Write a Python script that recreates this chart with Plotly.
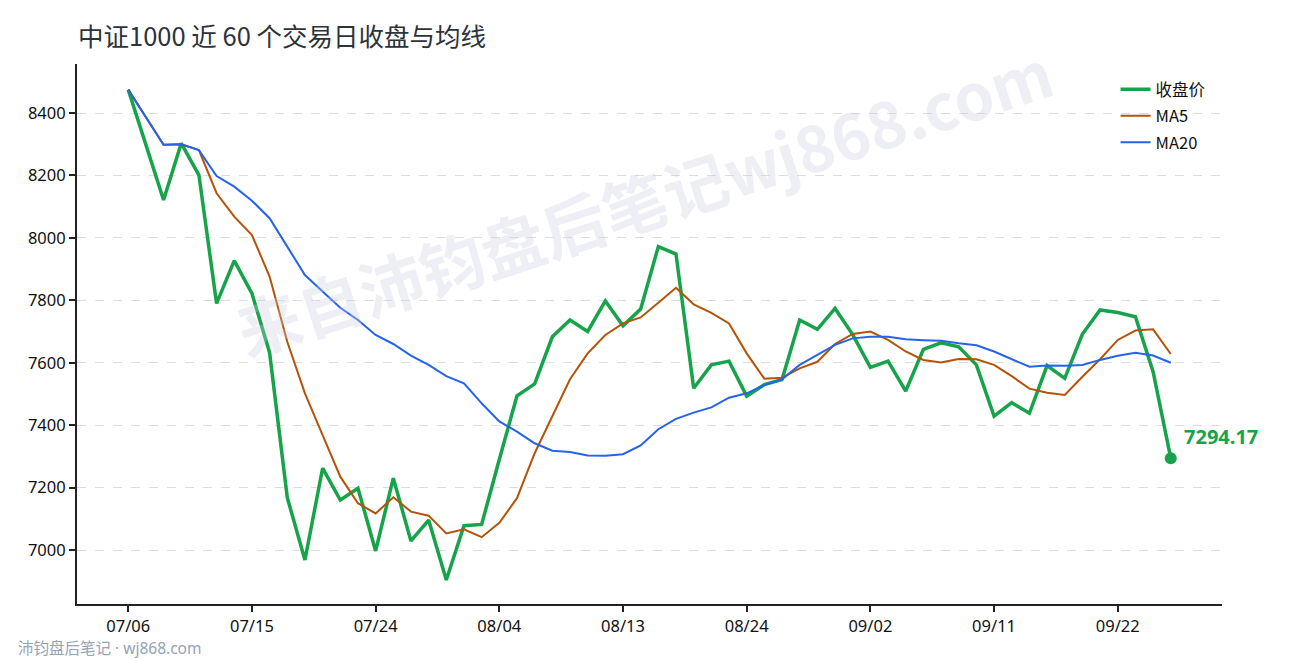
import plotly.graph_objects as go

# trading days (07/06 .. 09/25), weekdays only
dates = [
    "07/06", "07/07", "07/08", "07/09", "07/10", "07/13", "07/14", "07/15", "07/16", "07/17",
    "07/20", "07/21", "07/22", "07/23", "07/24", "07/27", "07/28", "07/29", "07/30", "07/31",
    "08/03", "08/04", "08/05", "08/06", "08/07", "08/10", "08/11", "08/12", "08/13", "08/14",
    "08/17", "08/18", "08/19", "08/20", "08/21", "08/24", "08/25", "08/26", "08/27", "08/28",
    "08/31", "09/01", "09/02", "09/03", "09/04", "09/07", "09/08", "09/09", "09/10", "09/11",
    "09/14", "09/15", "09/16", "09/17", "09/18", "09/21", "09/22", "09/23", "09/24", "09/25",
]

close = [
    8475, 8300, 8121, 8303, 8201, 7790, 7927, 7822, 7632, 7168,
    6968, 7262, 7160, 7198, 6997, 7230, 7029, 7096, 6904, 7078,
    7082, 7290, 7494, 7532, 7683, 7737, 7700, 7798, 7718, 7772,
    7972, 7948, 7518, 7593, 7605, 7493, 7530, 7546, 7737, 7707,
    7774, 7690, 7585, 7605, 7509, 7643, 7664, 7651, 7593, 7429,
    7472, 7438, 7591, 7550, 7692, 7769, 7761, 7747, 7571, 7294.17,
]

ma5 = [
    8475, 8387, 8298, 8300, 8281, 8143, 8068, 8009, 7876, 7667,
    7502, 7368, 7235, 7150, 7117, 7169, 7123, 7110, 7053, 7066,
    7041, 7087, 7166, 7310, 7427, 7547, 7630, 7689, 7726, 7745,
    7792, 7840, 7787, 7760, 7726, 7630, 7549, 7552, 7582, 7603,
    7660, 7692, 7700, 7673, 7636, 7609, 7601, 7612, 7611, 7593,
    7557, 7517, 7504, 7497, 7555, 7611, 7673, 7703, 7707, 7628,
]

ma20 = [
    8475, 8387, 8298, 8300, 8281, 8198, 8164, 8119, 8063, 7972,
    7881, 7828, 7776, 7737, 7689, 7660, 7623, 7593, 7557, 7534,
    7470, 7412, 7379, 7342, 7318, 7314, 7303, 7302, 7307, 7335,
    7387, 7420, 7440, 7457, 7488, 7502, 7529, 7547, 7593, 7625,
    7657, 7678, 7683, 7683, 7675, 7672, 7670, 7662, 7656, 7636,
    7612, 7587, 7591, 7590, 7593, 7609, 7622, 7632, 7623, 7600,
]

y_ticks = [7000, 7200, 7400, 7600, 7800, 8000, 8200, 8400]

GREEN = "#16a34a"
ORANGE = "#b45309"
BLUE = "#2563eb"
FONT = "Noto Sans, Noto Sans CJK SC, sans-serif"
CJK = "Noto Sans CJK SC, sans-serif"

fig = go.Figure()

fig.add_trace(go.Scatter(x=dates, y=close, name="收盘价", mode="lines", legendgroup="a",
                         line=dict(color=GREEN, width=3.5)))
fig.add_trace(go.Scatter(x=dates, y=ma5, name="MA5", mode="lines", legendgroup="b",
                         line=dict(color=ORANGE, width=2)))
fig.add_trace(go.Scatter(x=dates, y=ma20, name="MA20", mode="lines", legendgroup="c",
                         line=dict(color=BLUE, width=2)))

# last close marker + label
fig.add_trace(go.Scatter(x=[dates[-1]], y=[close[-1]], mode="markers",
                         marker=dict(color=GREEN, size=12), showlegend=False,
                         hoverinfo="skip"))
fig.add_annotation(x=dates[-1], y=close[-1], text=f"<b>{close[-1]:.2f}</b>",
                   showarrow=False, xanchor="left", yanchor="bottom",
                   xshift=11, yshift=6, font=dict(size=20, color=GREEN, family=FONT))

# watermark
fig.add_annotation(xref="paper", yref="paper", x=0.495, y=0.75,
                   xanchor="center", yanchor="middle",
                   text="<b>来自沛钧盘后笔记wj868.com</b>", showarrow=False,
                   textangle=-18, font=dict(size=64, color="rgba(200,205,222,0.32)", family=CJK))

# footer
fig.add_annotation(xref="paper", yref="paper", x=-0.053, y=-0.082,
                   xanchor="left", yanchor="middle",
                   text="沛钧盘后笔记 · wj868.com", showarrow=False,
                   font=dict(size=15.5, color="#94a3b8", family=FONT))

fig.update_layout(
    width=1282, height=652,
    margin=dict(l=69, r=68, t=56, b=56),
    plot_bgcolor="white", paper_bgcolor="white",
    title=dict(text="中证1000 近 60 个交易日收盘与均线", x=0.0546, xanchor="left",
               y=0.9555, yanchor="middle",
               font=dict(size=25.5, color="#2d333b", family=CJK)),
    font=dict(family=FONT, size=16, color="#111"),
    legend=dict(x=0.99, y=0.985, xanchor="right", yanchor="top",
                bgcolor="rgba(0,0,0,0)", font=dict(size=16.5, family=CJK, color="#111"),
                traceorder="grouped", tracegroupgap=2),
    showlegend=True,
    xaxis=dict(
        type="category", range=[-2.9, 61.9],
        tickmode="array", tickvals=dates[::7], ticktext=dates[::7],
        ticks="outside", ticklen=6, tickwidth=2, tickcolor="#222",
        showline=True, linewidth=2, linecolor="#222",
        showgrid=False, zeroline=False, tickfont=dict(size=16.5),
    ),
    yaxis=dict(
        range=[6827, 8557], tickvals=y_ticks,
        ticks="outside", ticklen=6, tickwidth=2, tickcolor="#222",
        showline=True, linewidth=2, linecolor="#222",
        showgrid=True, gridcolor="#dddddd", gridwidth=1, griddash="dash",
        zeroline=False, tickfont=dict(size=16.5),
    ),
)

fig.write_html("out.html")
